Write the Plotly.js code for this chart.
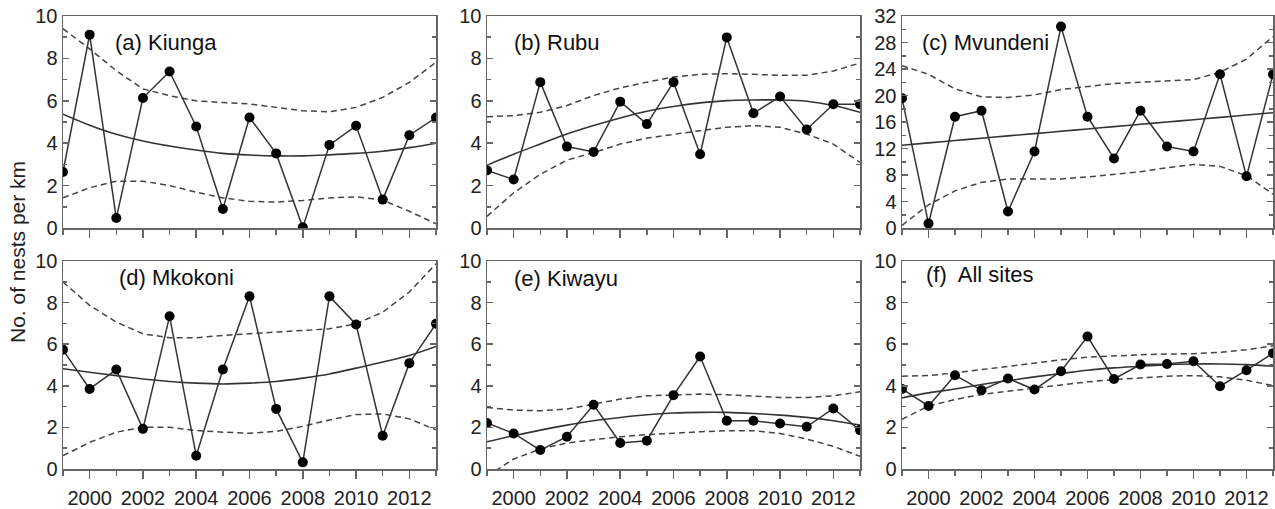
<!DOCTYPE html>
<html>
<head>
<meta charset="utf-8">
<script src="https://cdn.plot.ly/plotly-3.0.1.min.js"></script>
<style>html,body{margin:0;padding:0;background:#fff;}#chart{width:1275px;height:509px;}</style>
</head>
<body>
<div id="chart"></div>
<script>
const years = [1999,2000,2001,2002,2003,2004,2005,2006,2007,2008,2009,2010,2011,2012,2013];

// (a) Kiunga
const kiungaObs   = [2.64,9.12,0.47,6.13,7.38,4.79,0.90,5.21,3.52,0.03,3.92,4.82,1.34,4.38,5.21];
const kiungaFit   = [5.37,4.85,4.42,4.10,3.87,3.68,3.52,3.44,3.40,3.40,3.45,3.52,3.62,3.79,4.00];
const kiungaUpper = [9.40,8.45,7.42,6.56,6.24,6.00,5.92,5.85,5.69,5.53,5.48,5.69,6.16,6.87,7.82];
const kiungaLower = [1.42,1.90,2.21,2.21,2.00,1.69,1.42,1.26,1.22,1.30,1.42,1.47,1.31,0.79,0.20];

// (b) Rubu
const rubuObs   = [2.72,2.29,6.88,3.84,3.59,5.96,4.90,6.88,3.48,8.99,5.41,6.20,4.65,5.84,5.84];
const rubuFit   = [2.96,3.48,3.96,4.43,4.83,5.19,5.51,5.73,5.90,6.01,6.04,6.04,5.98,5.78,5.46];
const rubuUpper = [5.25,5.30,5.46,5.78,6.25,6.61,6.88,7.12,7.25,7.28,7.25,7.20,7.20,7.41,7.78];
const rubuLower = [0.55,1.66,2.53,3.20,3.56,3.96,4.24,4.43,4.59,4.75,4.83,4.75,4.43,3.96,3.09];

// (c) Mvundeni
const mvundeniObs   = [19.6,0.67,16.8,17.7,2.5,11.55,30.4,16.8,10.5,17.7,12.3,11.55,23.2,7.8,23.2];
const mvundeniFit   = [12.5,12.85,13.2,13.55,13.9,14.25,14.6,14.95,15.3,15.65,16.0,16.35,16.7,17.05,17.4];
const mvundeniUpper = [24.5,23.2,21.0,19.8,19.7,20.1,20.9,21.4,21.8,22.0,22.2,22.4,23.5,25.5,28.9];
const mvundeniLower = [0.4,3.5,5.6,6.9,7.4,7.4,7.4,7.7,8.1,8.5,9.1,9.6,9.3,7.9,5.1];

// (d) Mkokoni
const mkokoniObs   = [5.73,3.85,4.78,1.93,7.34,0.64,4.78,8.30,2.89,0.32,8.30,6.95,1.60,5.09,6.98];
const mkokoniFit   = [4.82,4.65,4.49,4.33,4.21,4.13,4.09,4.13,4.21,4.37,4.57,4.85,5.14,5.46,5.89];
const mkokoniUpper = [8.99,7.87,7.06,6.50,6.31,6.31,6.42,6.50,6.58,6.63,6.74,6.98,7.54,8.51,9.87];
const mkokoniLower = [0.64,1.28,1.77,2.01,2.01,1.85,1.77,1.72,1.81,2.05,2.36,2.62,2.65,2.41,1.88];

// (e) Kiwayu
const kiwayuObs   = [2.21,1.71,0.91,1.55,3.09,1.25,1.36,3.55,5.41,2.32,2.32,2.19,2.03,2.91,1.87];
const kiwayuFit   = [1.31,1.60,1.87,2.11,2.32,2.48,2.61,2.69,2.72,2.72,2.67,2.59,2.48,2.32,2.11];
const kiwayuUpper = [2.96,2.83,2.80,2.88,3.12,3.36,3.52,3.57,3.60,3.57,3.49,3.44,3.44,3.52,3.71];
const kiwayuLower = [-0.35,0.48,0.96,1.25,1.41,1.55,1.65,1.73,1.79,1.84,1.84,1.71,1.44,1.09,0.61];

// (f) All sites
const allObs   = [3.85,3.03,4.51,3.79,4.35,3.82,4.70,6.37,4.33,5.02,5.05,5.18,3.98,4.75,5.57];
const allFit   = [3.42,3.66,3.85,4.06,4.25,4.43,4.59,4.75,4.86,4.94,5.02,5.05,5.05,5.02,4.94];
const allUpper = [4.46,4.49,4.62,4.78,4.94,5.10,5.25,5.38,5.45,5.49,5.53,5.54,5.61,5.73,5.92];
const allLower = [2.39,3.03,3.34,3.58,3.74,3.90,4.06,4.19,4.30,4.38,4.46,4.49,4.43,4.27,4.01];

const panelTitles = ["(a) Kiunga","(b) Rubu","(c) Mvundeni","(d) Mkokoni","(e) Kiwayu","(f)\u00a0 All sites"];
const yTitle = "No. of nests per km";

const panels = [
  {obs:kiungaObs, fit:kiungaFit, up:kiungaUpper, lo:kiungaLower},
  {obs:rubuObs, fit:rubuFit, up:rubuUpper, lo:rubuLower},
  {obs:mvundeniObs, fit:mvundeniFit, up:mvundeniUpper, lo:mvundeniLower},
  {obs:mkokoniObs, fit:mkokoniFit, up:mkokoniUpper, lo:mkokoniLower},
  {obs:kiwayuObs, fit:kiwayuFit, up:kiwayuUpper, lo:kiwayuLower},
  {obs:allObs, fit:allFit, up:allUpper, lo:allLower}
];

const W = 1275, H = 509;
const colPx = [[63,436],[487,860],[902,1273]];
const rowPx = [[16,228],[261,469]];
const titlePos = [[0.134,0.873],[0.067,0.873],[0.049,0.873],[0.145,0.923],[0.067,0.918],[0.059,0.933]];

const axisColor = "#666";
const fontFam = "Arial, 'Liberation Sans', sans-serif";
const traces = [];
const layout = {
  width: W, height: H,
  margin: {l:0, r:0, t:0, b:0},
  paper_bgcolor: "#fff", plot_bgcolor: "#fff",
  showlegend: false,
  font: {family: fontFam, size: 20, color: "#222"},
  annotations: []
};

panels.forEach((p, i) => {
  const n = i + 1;
  const xa = n === 1 ? "x" : "x" + n;
  const ya = n === 1 ? "y" : "y" + n;
  const row = Math.floor(i / 3), col = i % 3;
  const common = {xaxis: xa, yaxis: ya, x: years, hoverinfo: "skip"};
  traces.push(Object.assign({}, common, {y: p.up, mode: "lines", line: {color: "#444", width: 1.5, dash: "6px,4px"}}));
  traces.push(Object.assign({}, common, {y: p.lo, mode: "lines", line: {color: "#444", width: 1.5, dash: "6px,4px"}}));
  traces.push(Object.assign({}, common, {y: p.fit, mode: "lines", line: {color: "#333", width: 1.6, shape: "spline"}}));
  traces.push(Object.assign({}, common, {y: p.obs, mode: "lines+markers", line: {color: "#333", width: 1.5}, marker: {color: "#000", size: 10}}));

  const isC = i === 2;
  layout["xaxis" + (n === 1 ? "" : n)] = {
    domain: [colPx[col][0] / W, colPx[col][1] / W],
    anchor: ya,
    range: [1999, 2013],
    tickmode: "linear", tick0: 2000, dtick: 2,
    ticks: "outside", ticklen: 8, tickwidth: 1.5, tickcolor: axisColor,
    minor: {dtick: 1, tick0: 1999, ticks: "outside", ticklen: 5, tickwidth: 1.5, tickcolor: axisColor},
    showticklabels: row === 1,
    ticklabelstandoff: 2,
    tickfont: {size: 20, color: "#222"},
    showline: true, linecolor: axisColor, linewidth: 1.5, mirror: true,
    showgrid: false, zeroline: false, fixedrange: true
  };
  layout["yaxis" + (n === 1 ? "" : n)] = {
    domain: [1 - rowPx[row][1] / H, 1 - rowPx[row][0] / H],
    anchor: xa,
    range: isC ? [0, 32] : [0, 10],
    tickmode: "linear", tick0: 0, dtick: isC ? 4 : 2,
    ticks: "inside", ticklen: 6, tickwidth: 1.5, tickcolor: axisColor,
    minor: {dtick: isC ? 2 : 1, ticks: "inside", ticklen: 4, tickwidth: 1.5, tickcolor: axisColor},
    tickfont: {size: 20, color: "#222"},
    showline: true, linecolor: axisColor, linewidth: 1.5, mirror: "ticks",
    showgrid: false, zeroline: false, fixedrange: true
  };
  layout.annotations.push({
    xref: xa + " domain", yref: ya + " domain",
    x: titlePos[i][0], y: titlePos[i][1],
    xanchor: "left", yanchor: "middle", showarrow: false,
    text: panelTitles[i], font: {size: 22, color: "#111", family: fontFam}
  });
});

layout.annotations.push({
  xref: "paper", yref: "paper", x: 18 / W, y: 1 - 252 / H,
  xanchor: "center", yanchor: "middle", showarrow: false, textangle: -90,
  text: yTitle, font: {size: 21, color: "#222", family: fontFam}
});

Plotly.newPlot("chart", traces, layout, {staticPlot: true, displayModeBar: false});
</script>
</body>
</html>
